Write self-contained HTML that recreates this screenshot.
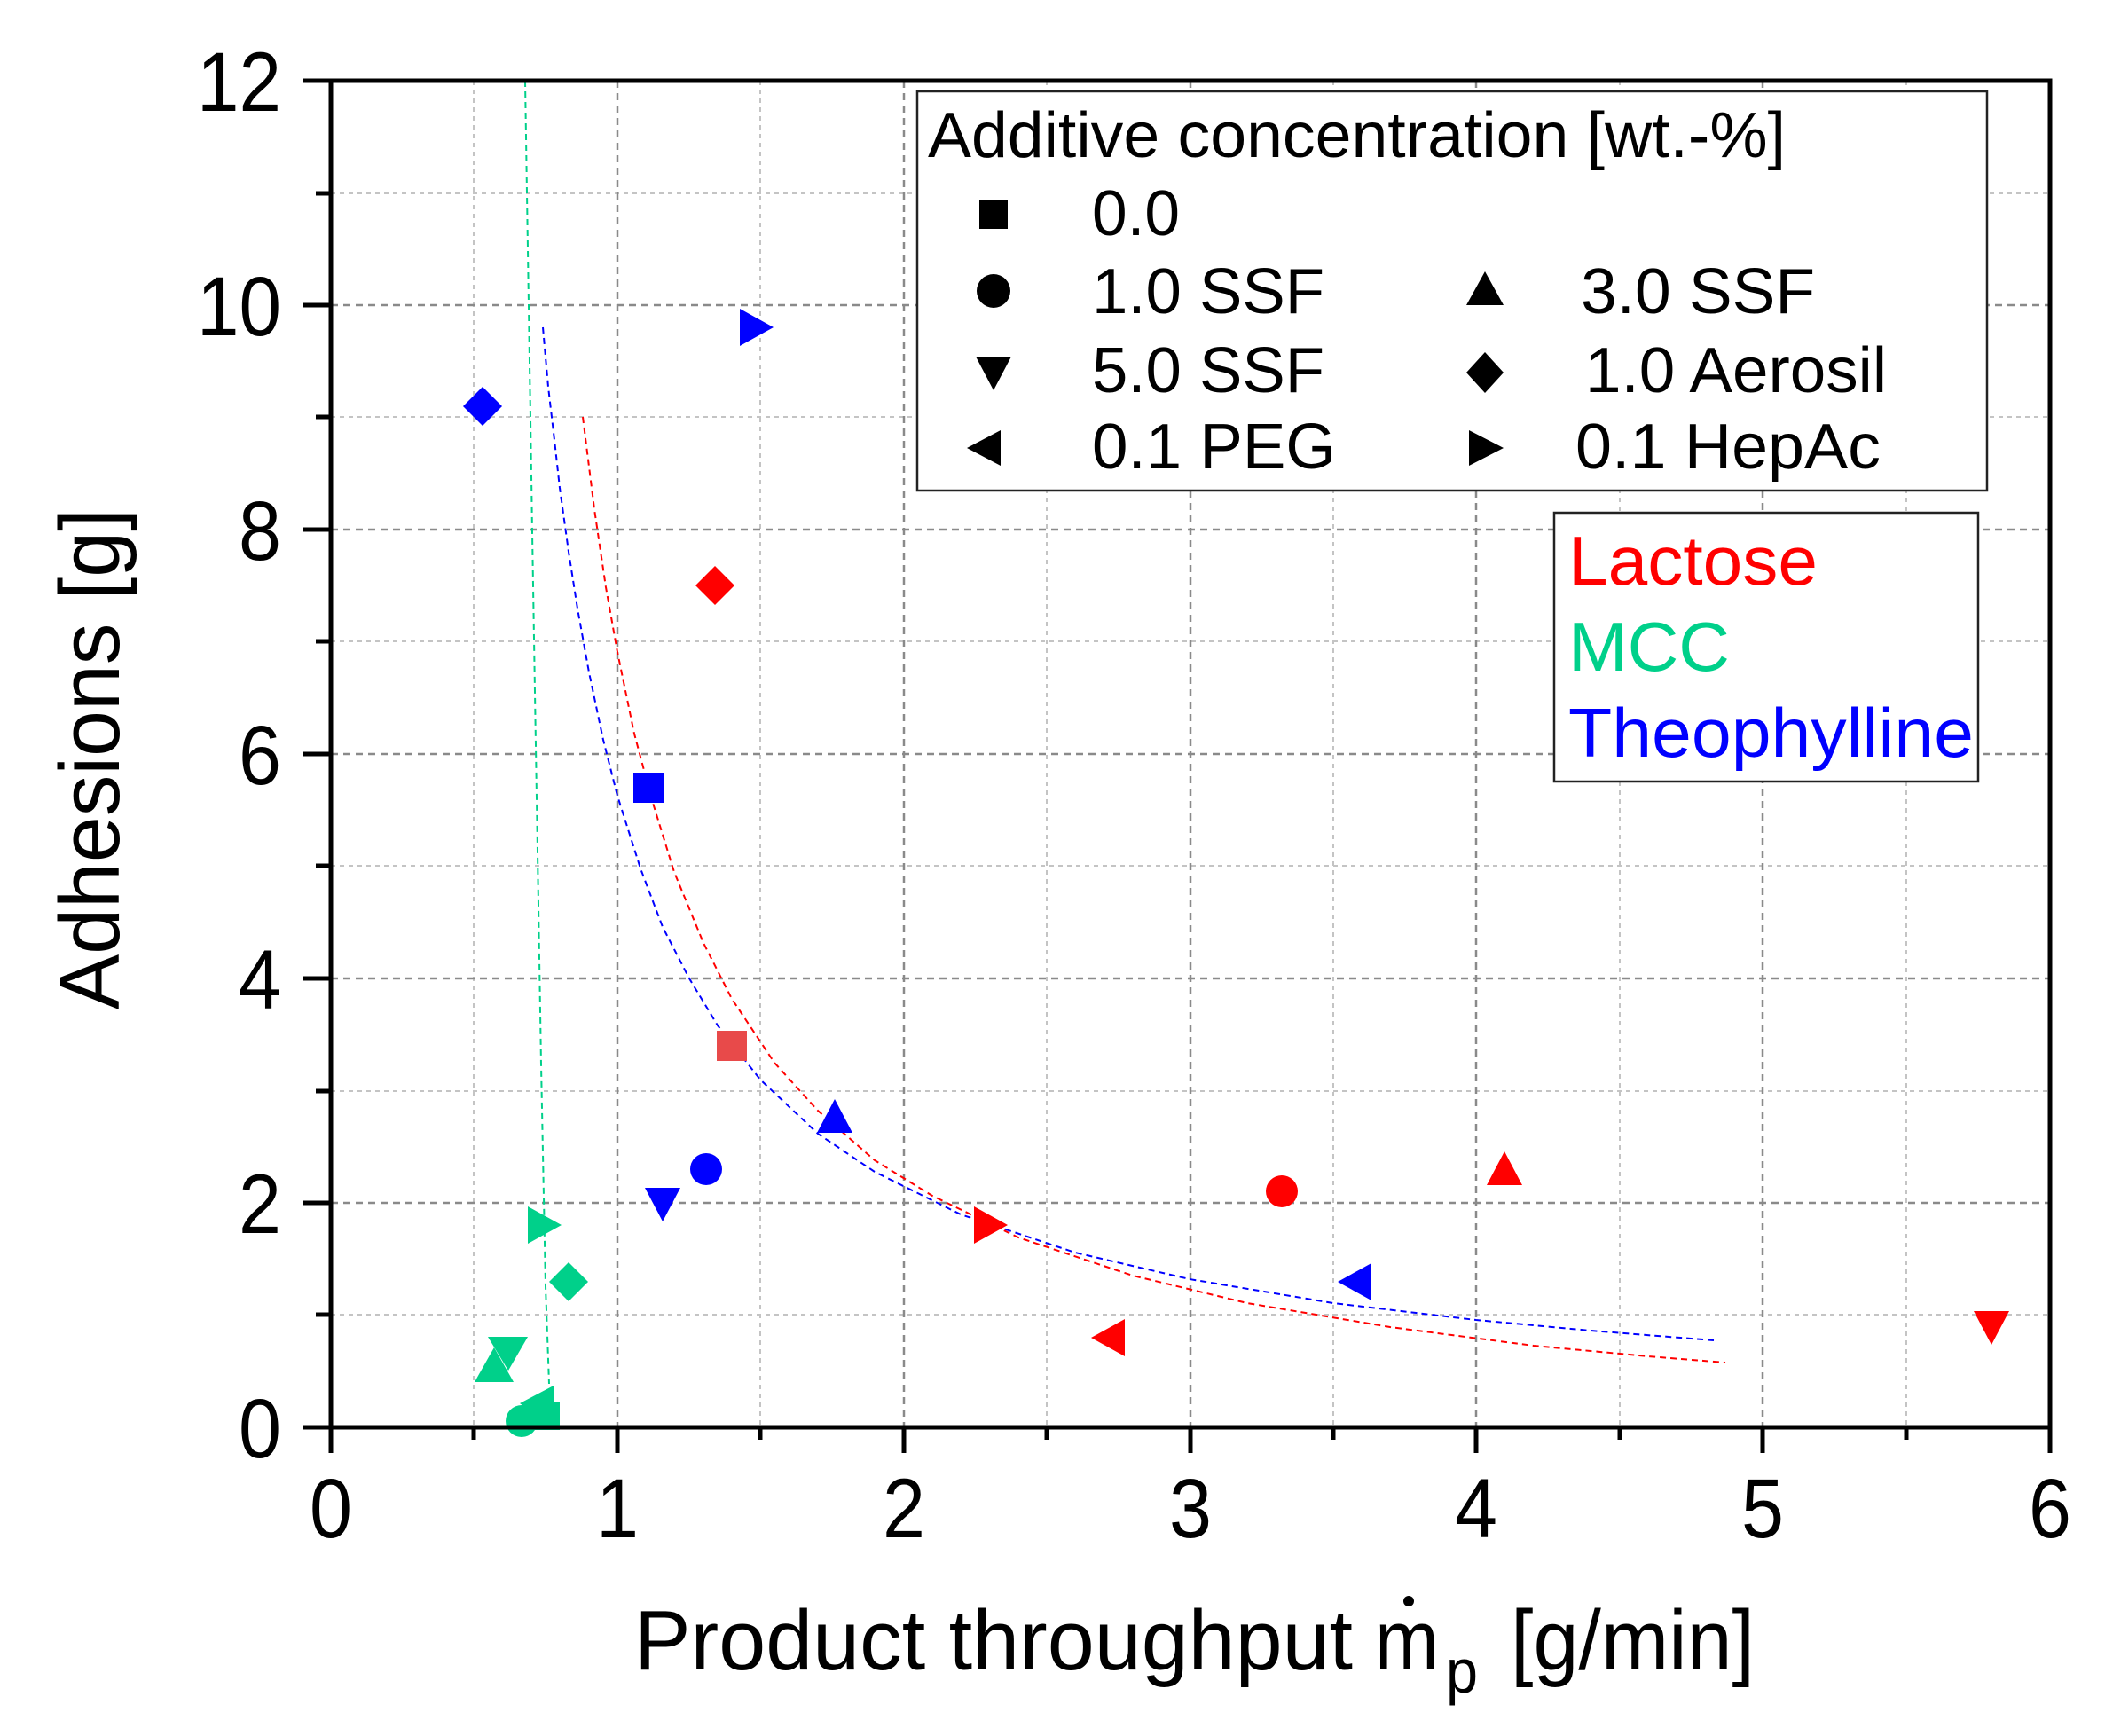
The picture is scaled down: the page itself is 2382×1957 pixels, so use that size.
<!DOCTYPE html>
<html><head><meta charset="utf-8"><style>html,body{margin:0;padding:0;background:#fff}svg{display:block}</style></head>
<body>
<svg width="2382" height="1957" viewBox="0 0 2382 1957" xmlns="http://www.w3.org/2000/svg" font-family="'Liberation Sans', sans-serif">
<rect width="2382" height="1957" fill="#fff"/>
<g stroke="#c4c4c4" stroke-width="2" stroke-dasharray="5,5">
<line x1="534" y1="91" x2="534" y2="1609"/><line x1="857" y1="91" x2="857" y2="1609"/><line x1="1180" y1="91" x2="1180" y2="1609"/><line x1="1503" y1="91" x2="1503" y2="1609"/><line x1="1826" y1="91" x2="1826" y2="1609"/><line x1="2149" y1="91" x2="2149" y2="1609"/>
<line x1="373" y1="1482" x2="2311" y2="1482"/><line x1="373" y1="1230" x2="2311" y2="1230"/><line x1="373" y1="976" x2="2311" y2="976"/><line x1="373" y1="723" x2="2311" y2="723"/><line x1="373" y1="470" x2="2311" y2="470"/><line x1="373" y1="218" x2="2311" y2="218"/>
</g>
<g stroke="#8a8a8a" stroke-width="2.5" stroke-dasharray="8,6">
<line x1="696" y1="91" x2="696" y2="1609"/><line x1="1019" y1="91" x2="1019" y2="1609"/><line x1="1342" y1="91" x2="1342" y2="1609"/><line x1="1664" y1="91" x2="1664" y2="1609"/><line x1="1987" y1="91" x2="1987" y2="1609"/>
<line x1="373" y1="1356" x2="2311" y2="1356"/><line x1="373" y1="1103" x2="2311" y2="1103"/><line x1="373" y1="850" x2="2311" y2="850"/><line x1="373" y1="597" x2="2311" y2="597"/><line x1="373" y1="344" x2="2311" y2="344"/>
</g>
<g fill="none" stroke-width="2" stroke-dasharray="7,5">
<polyline stroke="#ff0000" points="657,470 670,574 683,662 696,735 715,827 735,902 760,983 793,1063 825,1126 873,1198 922,1252 986,1308 1051,1348 1148,1395 1277,1438 1406,1469 1567,1496 1729,1517 1858,1529 1945,1536"/>
<polyline stroke="#0000ff" points="612,369 618,436 625,496 631,550 641,622 651,686 664,758 680,834 696,897 722,979 747,1045 777,1103 809,1156 857,1217 922,1278 986,1321 1083,1369 1212,1412 1341,1442 1503,1469 1664,1488 1793,1500 1932,1511"/>
<polyline stroke="#00d08a" points="592,91 596,344 600,600 605,900 610,1200 615,1450 619,1560"/>
</g>
<rect x="1034" y="103" width="1206" height="450" fill="#fff" stroke="#222" stroke-width="2.5"/>
<rect x="1752" y="578" width="478" height="303" fill="#fff" stroke="#222" stroke-width="2.5"/>
<g font-size="72" fill="#000">
<text x="1046" y="177" textLength="967" lengthAdjust="spacingAndGlyphs">Additive concentration [wt.-%]</text>
<text x="1231" y="265" textLength="99" lengthAdjust="spacingAndGlyphs">0.0</text>
<text x="1231" y="353" textLength="262" lengthAdjust="spacingAndGlyphs">1.0 SSF</text>
<text x="1231" y="442" textLength="262" lengthAdjust="spacingAndGlyphs">5.0 SSF</text>
<text x="1231" y="528" textLength="275" lengthAdjust="spacingAndGlyphs">0.1 PEG</text>
<text x="1782" y="353" textLength="264" lengthAdjust="spacingAndGlyphs">3.0 SSF</text>
<text x="1787" y="442" textLength="340" lengthAdjust="spacingAndGlyphs">1.0 Aerosil</text>
<text x="1776" y="528" textLength="344" lengthAdjust="spacingAndGlyphs">0.1 HepAc</text>
</g>
<g fill="#000">
<rect x="1104" y="226" width="32" height="32"/>
<circle cx="1120" cy="328" r="19"/>
<polygon points="1100,402 1140,402 1120,440"/>
<polygon points="1090,505 1128,485 1128,525"/>
<polygon points="1674,306 1695,344 1653,344"/>
<polygon points="1674,397 1695,420 1674,443 1653,420"/>
<polygon points="1656,485 1695,505 1656,525"/>
</g>
<g font-size="78">
<text x="1768" y="659" fill="#ff0000" textLength="281" lengthAdjust="spacingAndGlyphs">Lactose</text>
<text x="1768" y="756" fill="#00d08a" textLength="182" lengthAdjust="spacingAndGlyphs">MCC</text>
<text x="1768" y="853" fill="#0000ff" textLength="457" lengthAdjust="spacingAndGlyphs">Theophylline</text>
</g>
<g fill="#0000ff">
<polygon points="544,436 566,458 544,480 522,458"/>
<polygon points="834,348 872,369 834,390"/>
<rect x="714" y="871" width="34" height="34"/>
<polygon points="941,1239 961,1277 921,1277"/>
<circle cx="796" cy="1318" r="18"/>
<polygon points="727,1339 767,1339 747,1377"/>
<polygon points="1508,1445 1546,1424 1546,1466"/>
</g>
<g fill="#ff0000">
<polygon points="806,638 828,660 806,682 784,660"/>
<polygon points="1098,1360 1136,1381 1098,1402"/>
<circle cx="1445" cy="1343" r="18"/>
<polygon points="1696,1298 1716,1336 1676,1336"/>
<polygon points="1230,1508 1268,1487 1268,1529"/>
<polygon points="2225,1478 2265,1478 2245,1516"/>
</g>
<rect x="808" y="1162" width="34" height="34" fill="#e84a4a"/>
<g fill="#00d08a">
<polygon points="595,1360 633,1381 595,1402"/>
<polygon points="641,1423 663,1445 641,1467 619,1445"/>
<polygon points="550,1507 595,1507 573,1545"/>
<polygon points="557,1519 579,1558 535,1558"/>
<circle cx="588" cy="1602" r="18"/>
<polygon points="586,1582 624,1562 624,1610"/>
<rect x="603" y="1580" width="28" height="32"/>
</g>
<rect x="373" y="91" width="1938" height="1518" fill="none" stroke="#000" stroke-width="5"/>
<g stroke="#000" stroke-width="5">
<line x1="342" y1="91" x2="373" y2="91"/><line x1="342" y1="344" x2="373" y2="344"/><line x1="342" y1="597" x2="373" y2="597"/><line x1="342" y1="850" x2="373" y2="850"/><line x1="342" y1="1103" x2="373" y2="1103"/><line x1="342" y1="1356" x2="373" y2="1356"/><line x1="342" y1="1609" x2="373" y2="1609"/>
<line x1="356" y1="218" x2="373" y2="218"/><line x1="356" y1="470" x2="373" y2="470"/><line x1="356" y1="723" x2="373" y2="723"/><line x1="356" y1="976" x2="373" y2="976"/><line x1="356" y1="1230" x2="373" y2="1230"/><line x1="356" y1="1482" x2="373" y2="1482"/>
<line x1="373" y1="1609" x2="373" y2="1638"/><line x1="696" y1="1609" x2="696" y2="1638"/><line x1="1019" y1="1609" x2="1019" y2="1638"/><line x1="1342" y1="1609" x2="1342" y2="1638"/><line x1="1664" y1="1609" x2="1664" y2="1638"/><line x1="1987" y1="1609" x2="1987" y2="1638"/><line x1="2311" y1="1609" x2="2311" y2="1638"/>
<line x1="534" y1="1609" x2="534" y2="1623"/><line x1="857" y1="1609" x2="857" y2="1623"/><line x1="1180" y1="1609" x2="1180" y2="1623"/><line x1="1503" y1="1609" x2="1503" y2="1623"/><line x1="1826" y1="1609" x2="1826" y2="1623"/><line x1="2149" y1="1609" x2="2149" y2="1623"/>
</g>
<g font-size="95" fill="#000">
<text x="222" y="125" textLength="95" lengthAdjust="spacingAndGlyphs">12</text>
<text x="222" y="378" textLength="95" lengthAdjust="spacingAndGlyphs">10</text>
<text x="269" y="631" textLength="48" lengthAdjust="spacingAndGlyphs">8</text>
<text x="269" y="884" textLength="48" lengthAdjust="spacingAndGlyphs">6</text>
<text x="269" y="1137" textLength="48" lengthAdjust="spacingAndGlyphs">4</text>
<text x="269" y="1390" textLength="48" lengthAdjust="spacingAndGlyphs">2</text>
<text x="269" y="1643" textLength="48" lengthAdjust="spacingAndGlyphs">0</text>
<text x="349" y="1733" textLength="48" lengthAdjust="spacingAndGlyphs">0</text>
<text x="672" y="1733" textLength="48" lengthAdjust="spacingAndGlyphs">1</text>
<text x="995" y="1733" textLength="48" lengthAdjust="spacingAndGlyphs">2</text>
<text x="1318" y="1733" textLength="48" lengthAdjust="spacingAndGlyphs">3</text>
<text x="1640" y="1733" textLength="48" lengthAdjust="spacingAndGlyphs">4</text>
<text x="1963" y="1733" textLength="48" lengthAdjust="spacingAndGlyphs">5</text>
<text x="2287" y="1733" textLength="48" lengthAdjust="spacingAndGlyphs">6</text>
</g>
<g font-size="96" fill="#000">
<text x="715" y="1882" textLength="810" lengthAdjust="spacingAndGlyphs">Product throughput</text>
<text x="1550" y="1882" textLength="72" lengthAdjust="spacingAndGlyphs">m</text>
<circle cx="1588" cy="1805" r="6"/>
<text x="1630" y="1908" font-size="70" textLength="36" lengthAdjust="spacingAndGlyphs">p</text>
<text x="1703" y="1882" textLength="275" lengthAdjust="spacingAndGlyphs">[g/min]</text>
<text transform="translate(134,1138) rotate(-90)" textLength="565" lengthAdjust="spacingAndGlyphs">Adhesions [g]</text>
</g>
</svg>
</body></html>
